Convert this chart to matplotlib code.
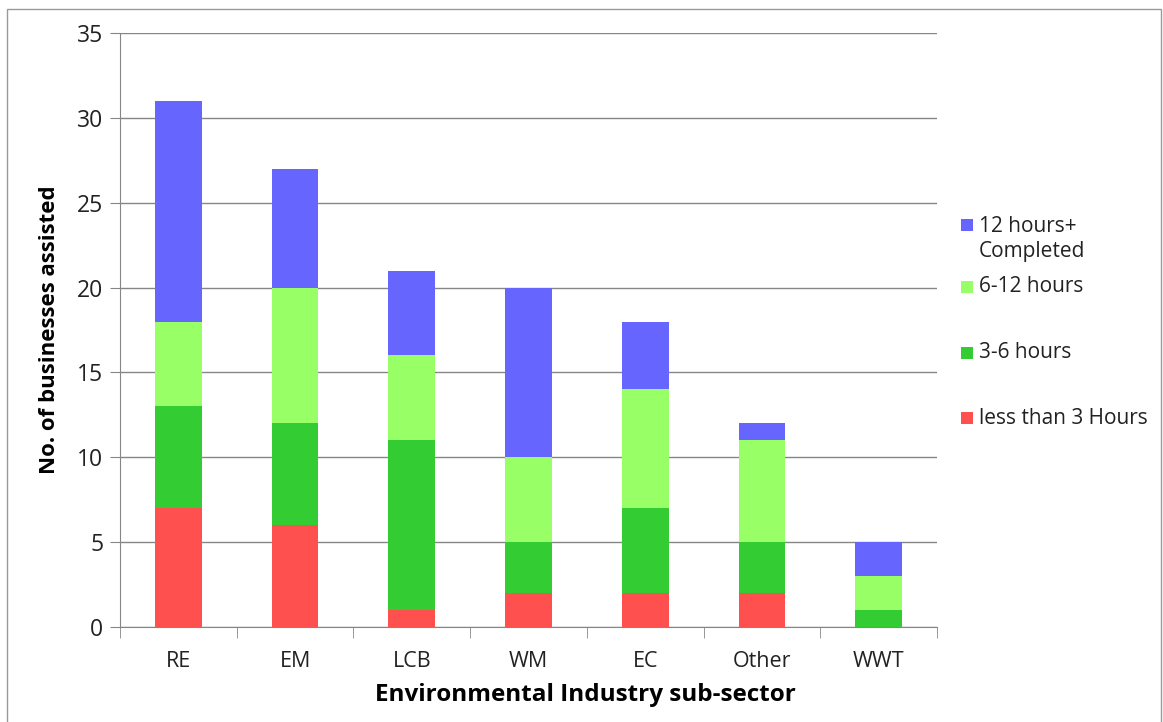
import matplotlib.pyplot as plt
from matplotlib.patches import Rectangle
import numpy as np

plt.rcParams['font.family'] = ['Open Sans', 'DejaVu Sans']

# --- data ---
sectors = ['RE', 'EM', 'LCB', 'WM', 'EC', 'Other', 'WWT']
less_3h = [7, 6, 1, 2, 2, 2, 0]
h3_6 = [6, 6, 10, 3, 5, 3, 1]
h6_12 = [5, 8, 5, 5, 7, 6, 2]
h12_plus = [13, 7, 5, 10, 4, 1, 2]

series_labels = ['less than 3 Hours', '3-6 hours', '6-12 hours', '12 hours+\nCompleted']
series_colors = ['#FF5050', '#33CC33', '#99FF66', '#6666FF']

W, H = 1163, 722
fig = plt.figure(figsize=(W / 100, H / 100), dpi=100)
ax = fig.add_axes([120 / W, 1 - 627 / H, (937 - 120) / W, (627 - 33) / H])

x = np.arange(len(sectors))
bottom = np.zeros(len(sectors))
for vals, col in zip([less_3h, h3_6, h6_12, h12_plus], series_colors):
    ax.bar(x, vals, width=0.4, bottom=bottom, color=col, zorder=3)
    bottom += np.array(vals)

grid_col = '#868686'
ax.set_xlim(-0.5, len(sectors) - 0.5)
ax.set_ylim(0, 35)
ax.set_yticks(np.arange(0, 36, 5))
ax.yaxis.grid(True, color=grid_col, linewidth=1, zorder=0)
ax.tick_params(axis='y', length=7, color=grid_col, labelsize=16.5, labelcolor='#222222', pad=5)

ax.set_xticks(x)
ax.set_xticklabels(sectors)
ax.set_xticks(np.arange(-0.5, len(sectors)), minor=True)
ax.tick_params(axis='x', which='major', length=0, labelsize=15.5, labelcolor='#222222', pad=17)
ax.tick_params(axis='x', which='minor', length=8, color=grid_col)

for s in ['top', 'right']:
    ax.spines[s].set_visible(False)
for s in ['left', 'bottom']:
    ax.spines[s].set_color(grid_col)

ax.set_xlabel('Environmental Industry sub-sector', fontsize=17.5, fontweight='bold', va='center')
ax.xaxis.set_label_coords((585 - 120) / 817, (627 - 695) / 594)
ax.set_ylabel('No. of businesses assisted', fontsize=16, fontweight='bold', va='center')
ax.yaxis.set_label_coords((49 - 120) / 817, 0.5)

# legend drawn by hand to match the spacing of the original
legend_y = [418, 353, 287, 225]
for lab, col, yy in zip(series_labels, series_colors, legend_y):
    fig.patches.append(Rectangle((961 / W, 1 - (yy + 6) / H), 12 / W, 12 / H,
                                 transform=fig.transFigure, facecolor=col, edgecolor='none'))
    ty = yy + 13.5 if '\n' in lab else yy
    fig.text(979 / W, 1 - ty / H, lab, fontsize=15, color='#222222',
             va='center', ha='left', linespacing=1.25)

# outer chart border
fig.patches.append(Rectangle((7 / W, -0.01), (1161 - 7) / W, 1.01 - 9 / H,
                             transform=fig.transFigure, fill=False, edgecolor='#9a9a9a', linewidth=1))

fig.savefig('out.png', dpi=100)
